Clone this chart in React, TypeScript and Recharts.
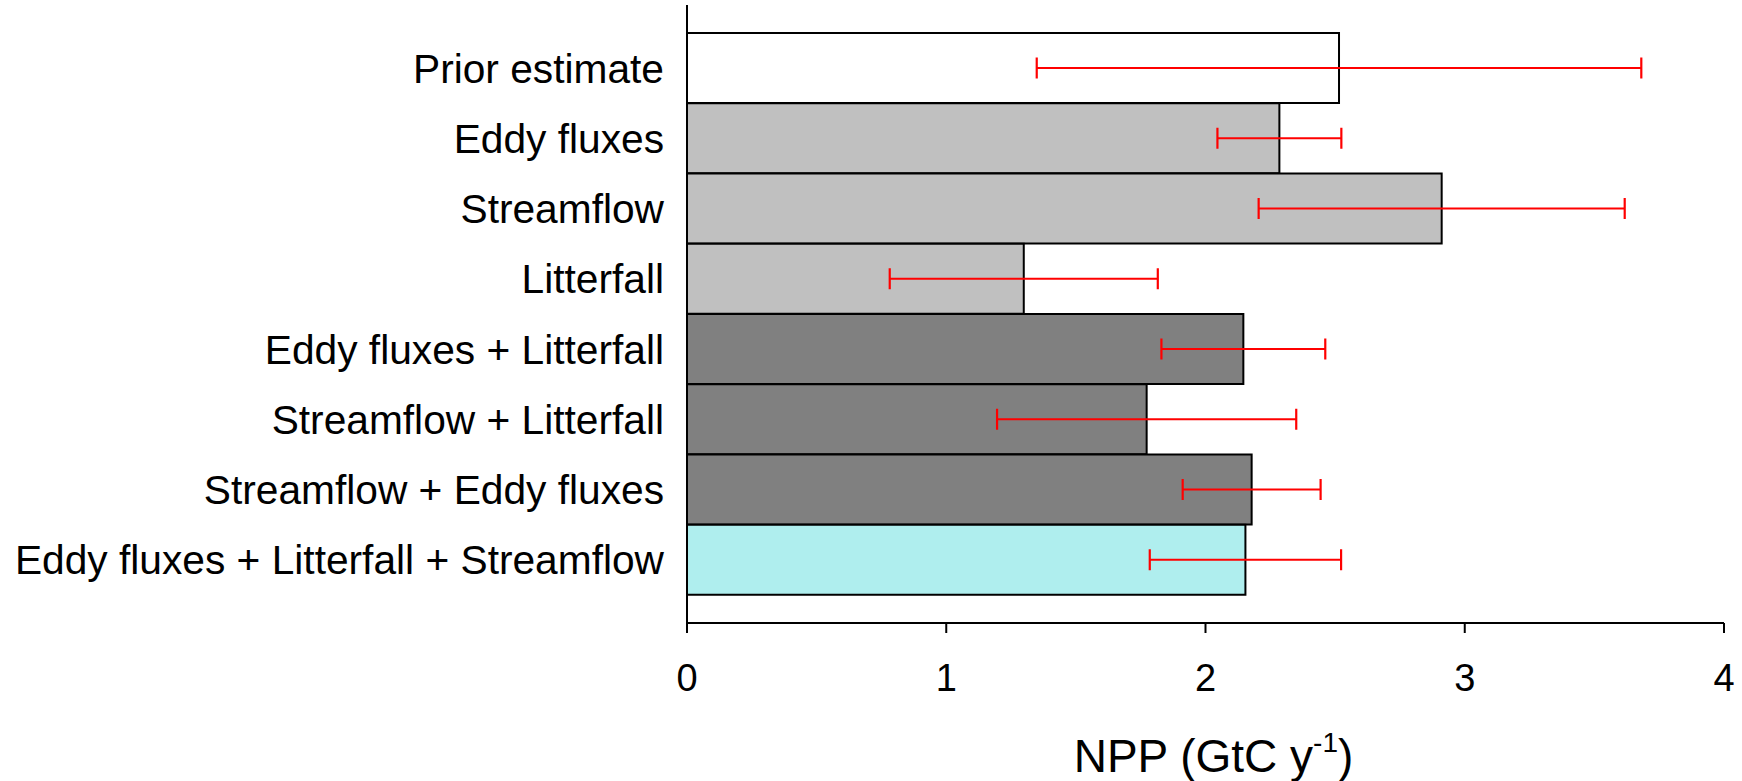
import React from 'react';
import { BarChart, Bar, XAxis, YAxis, Cell, ErrorBar } from 'recharts';

const CATEGORIES = [
  'Prior estimate',
  'Eddy fluxes',
  'Streamflow',
  'Litterfall',
  'Eddy fluxes + Litterfall',
  'Streamflow + Litterfall',
  'Streamflow + Eddy fluxes',
  'Eddy fluxes + Litterfall + Streamflow',
];
const NPP = [2.515, 2.285, 2.911, 1.299, 2.146, 1.773, 2.178, 2.154];
const NPP_ERR = [1.166, 0.239, 0.706, 0.517, 0.316, 0.577, 0.266, 0.369];
const X_TICKS = [0, 1, 2, 3, 4];

// fill per bar: prior / single constraint / two constraints / all three
const BAR_FILLS = ['#ffffff', '#c0c0c0', '#c0c0c0', '#c0c0c0', '#808080', '#808080', '#808080', '#afeeee'];

const FONT = '"Liberation Sans", Arial, sans-serif';

const data = CATEGORIES.map((name, i) => ({ name, npp: NPP[i], err: NPP_ERR[i] }));

const NppLabel: React.FC<any> = ({ viewBox }) => {
  if (!viewBox) return null;
  const { x, y, width } = viewBox;
  return (
    <text x={x + width / 2 + 8} y={y + 149} textAnchor="middle" fontSize={46} fontFamily={FONT} fill="#000">
      NPP (GtC y
      <tspan dy={-20} fontSize={28}>-1</tspan>
      <tspan dy={20}>)</tspan>
    </text>
  );
};

export default function App() {
  return (
    <div style={{ position: 'absolute', left: 0, top: 0, width: 1742, height: 781, background: '#fff' }}>
      <BarChart
        width={1742}
        height={781}
        data={data}
        layout="vertical"
        margin={{ top: 5, right: 18, bottom: 0, left: 0 }}
        barCategoryGap={0}
        barGap={0}
      >
        <XAxis
          type="number"
          domain={[0, 4]}
          ticks={X_TICKS}
          allowDataOverflow
          height={158}
          tickSize={10}
          tickMargin={31}
          tickLine={{ stroke: '#000', strokeWidth: 2 }}
          axisLine={{ stroke: '#000', strokeWidth: 2 }}
          tick={{ fill: '#000', fontSize: 38, fontFamily: FONT }}
          label={<NppLabel />}
        />
        <YAxis
          type="category"
          dataKey="name"
          width={687}
          interval={0}
          tickLine={false}
          tickSize={0}
          tickMargin={23}
          padding={{ top: 28, bottom: 28 }}
          axisLine={{ stroke: '#000', strokeWidth: 2 }}
          tick={{ fill: '#000', fontSize: 40.7, fontFamily: FONT }}
        />
        <Bar dataKey="npp" stroke="#000" strokeWidth={2} isAnimationActive={false}>
          {data.map((d, i) => <Cell key={d.name} fill={BAR_FILLS[i]} />)}
          <ErrorBar dataKey="err" direction="x" width={10.5} stroke="#ff0000" strokeWidth={2.2} isAnimationActive={false} />
        </Bar>
      </BarChart>
    </div>
  );
}
